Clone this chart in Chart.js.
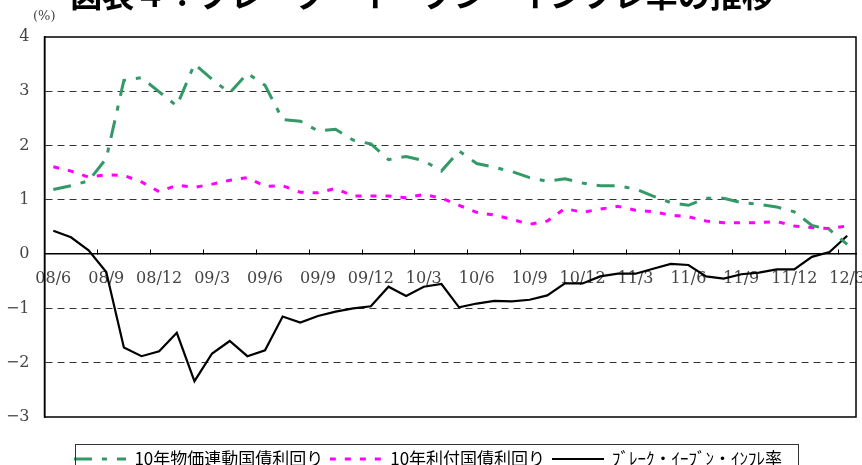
<!DOCTYPE html>
<html><head><meta charset="utf-8">
<script src="https://cdn.jsdelivr.net/npm/chart.js@4/dist/chart.umd.min.js"></script>
<style>html,body{margin:0;padding:0;background:#fff;}#wrap{width:862px;height:465px;position:relative;}</style>
</head><body><div id="wrap"><canvas id="c" width="862" height="465"></canvas></div>
<script>
const categories = ['08/6','08/7','08/8','08/9','08/10','08/11','08/12','09/1','09/2','09/3','09/4','09/5','09/6','09/7','09/8','09/9','09/10','09/11','09/12','10/1','10/2','10/3','10/4','10/5','10/6','10/7','10/8','10/9','10/10','10/11','10/12','11/1','11/2','11/3','11/4','11/5','11/6','11/7','11/8','11/9','11/10','11/11','11/12','12/1','12/2','12/3'];
const seriesNames = ['10年物価連動国債利回り','10年利付国債利回り','ﾌﾞﾚｰｸ・ｲｰﾌﾞﾝ・ｲﾝﾌﾚ率'];
const indexedYield = [1.19,1.26,1.35,1.76,3.20,3.25,2.99,2.73,3.50,3.22,2.97,3.33,3.11,2.48,2.45,2.27,2.30,2.10,2.03,1.74,1.80,1.72,1.53,1.90,1.67,1.60,1.52,1.41,1.34,1.39,1.31,1.26,1.26,1.20,1.07,0.95,0.90,1.03,1.03,0.95,0.92,0.87,0.78,0.53,0.45,0.18];
const nominalYield = [1.61,1.53,1.42,1.46,1.45,1.33,1.15,1.27,1.23,1.29,1.36,1.41,1.25,1.26,1.14,1.13,1.21,1.07,1.07,1.07,1.04,1.10,1.03,0.90,0.77,0.72,0.64,0.55,0.61,0.84,0.77,0.83,0.88,0.81,0.78,0.72,0.69,0.61,0.58,0.58,0.58,0.60,0.52,0.49,0.47,0.52];
const breakEven = [0.43,0.31,0.07,-0.33,-1.72,-1.88,-1.79,-1.45,-2.34,-1.83,-1.60,-1.88,-1.77,-1.15,-1.26,-1.14,-1.06,-1.00,-0.96,-0.60,-0.77,-0.60,-0.55,-0.98,-0.91,-0.86,-0.87,-0.84,-0.76,-0.54,-0.54,-0.41,-0.36,-0.36,-0.27,-0.18,-0.20,-0.41,-0.45,-0.37,-0.34,-0.28,-0.28,-0.05,0.04,0.34];
const yMin = -3, yMax = 4, yStep = 1;
const labelEvery = 3;
const titleText = '図表４：ブレーク・イーブン・インフレ率の推移';
const unitText = '(%)';

const serif = '"DejaVu Serif", "Liberation Serif", serif';
const gothic = '"Noto Sans CJK JP", "Noto Sans", sans-serif';

const styles = [
  { color: '#339966', width: 3, dash: [18,10,5,10] },
  { color: '#ff00ff', width: 3, dash: [6,9] },
  { color: '#000000', width: 2.2, dash: [] }
];
const sampleW = 52;
function legendSample(s) {
  const cv = document.createElement('canvas');
  cv.width = sampleW; cv.height = 4;
  const g = cv.getContext('2d');
  g.strokeStyle = s.color; g.lineWidth = s.width; g.lineCap = 'butt';
  g.setLineDash(s.dash);
  g.beginPath(); g.moveTo(0, 2); g.lineTo(sampleW, 2); g.stroke();
  return cv;
}

const decor = {
  id: 'decor',
  afterDraw(chart) {
    const ctx = chart.ctx, a = chart.chartArea;
    ctx.save();
    ctx.strokeStyle = '#000';
    ctx.lineWidth = 1.5;
    ctx.setLineDash([]);
    ctx.strokeRect(a.left, a.top, a.right - a.left, a.bottom - a.top);
    ctx.lineWidth = 1;
    ctx.strokeStyle = '#333';
    ctx.strokeRect(75.5, 444.5, 723, 30);
    ctx.fillStyle = '#000';
    ctx.font = 'bold 32px ' + gothic;
    ctx.textAlign = 'center';
    ctx.textBaseline = 'alphabetic';
    ctx.fillText(titleText, 422, 7);
    ctx.font = '13px ' + serif;
    ctx.fillStyle = '#444';
    ctx.textAlign = 'left';
    ctx.textBaseline = 'middle';
    ctx.fillText(unitText, 33, 17);
    ctx.restore();
  }
};

const seriesData = [indexedYield, nominalYield, breakEven];
new Chart(document.getElementById('c'), {
  type: 'line',
  data: {
    labels: categories,
    datasets: seriesData.map((d, k) => ({
      label: seriesNames[k], data: d,
      borderColor: styles[k].color, backgroundColor: styles[k].color,
      borderWidth: styles[k].width, borderDash: styles[k].dash, borderCapStyle: 'butt',
      pointRadius: 0, pointStyle: legendSample(styles[k]), tension: 0
    }))
  },
  options: {
    responsive: false,
    animation: false,
    layout: { padding: { left: 0, right: 6, top: 37, bottom: -12.5 } },
    plugins: {
      title: { display: false },
      tooltip: { enabled: false },
      legend: {
        position: 'bottom',
        title: { display: true, text: '', font: { size: 10 }, padding: { top: 15, bottom: 0 } },
        labels: {
          usePointStyle: true,
          pointStyleWidth: sampleW,
          padding: 6.5,
          color: '#000',
          font: { family: gothic, size: 17 }
        }
      }
    },
    scales: {
      x: {
        type: 'category',
        position: { y: 0 },
        offset: true,
        afterFit(scale) { scale.paddingLeft = 0; scale.paddingRight = 0; },
        grid: {
          display: true, drawOnChartArea: false, drawTicks: true, tickLength: -5, lineWidth: 1, offset: true,
          color: '#000',
          tickColor: (c) => (c.index % labelEvery === 0) ? '#000' : 'rgba(0,0,0,0)'
        },
        border: { display: true, color: '#000', width: 1.5 },
        ticks: {
          autoSkip: false, maxRotation: 0, minRotation: 0, padding: 20,
          color: '#444', font: { family: serif, size: 16 },
          callback: function(v, i) { return i % labelEvery === 0 ? categories[i] : ''; }
        }
      },
      y: {
        min: yMin, max: yMax,
        afterFit(scale) { scale.width = 44.5; },
        grid: { drawTicks: false, color: (c) => (c.tick && (c.tick.value === 0 || c.tick.value === yMin || c.tick.value === yMax)) ? 'rgba(0,0,0,0)' : '#333', lineWidth: 1 },
        border: { display: true, color: '#000', width: 1.5, dash: [7,5] },
        ticks: {
          stepSize: yStep, padding: 15, color: '#444', font: { family: serif, size: 16 },
          callback: (v) => v < 0 ? '\u2212' + Math.abs(v) : String(v)
        }
      }
    }
  },
  plugins: [decor]
});
</script></body></html>
